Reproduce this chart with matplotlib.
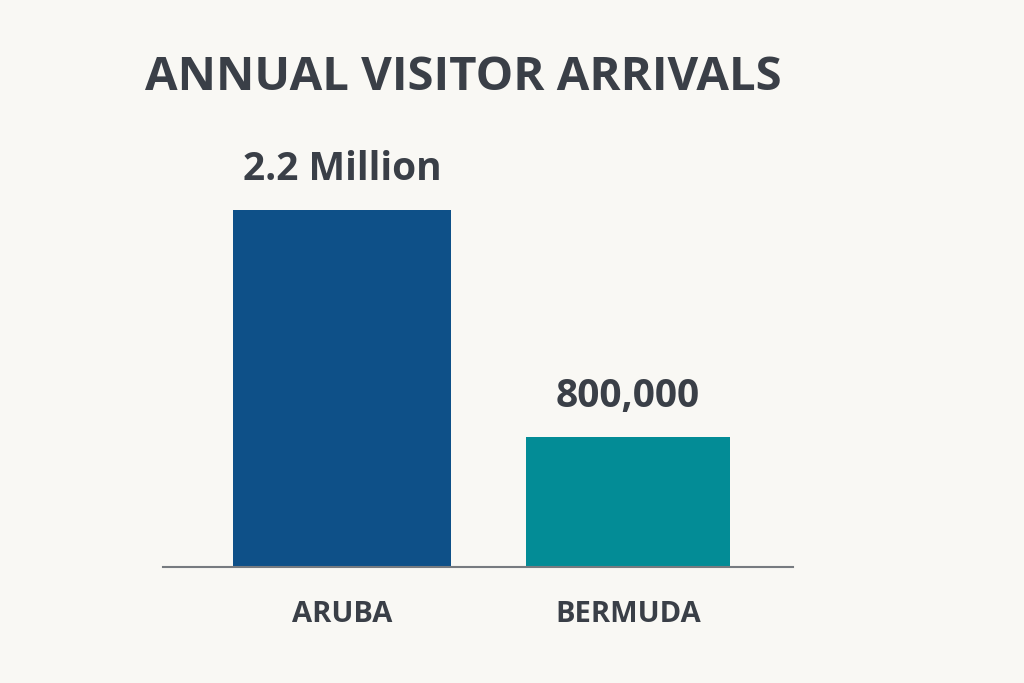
import matplotlib
matplotlib.use("Agg")
import matplotlib.pyplot as plt

categories = ["ARUBA", "BERMUDA"]
values = [2_200_000, 800_000]
value_labels = ["2.2 Million", "800,000"]
colors = ["#0E5088", "#038C96"]

W, H = 1024, 683
fig = plt.figure(figsize=(W/100, H/100), dpi=100)
bg = "#F9F8F4"
fig.patch.set_facecolor(bg)
txt = "#3A3F47"
plt.rcParams['font.family'] = ['Open Sans', 'DejaVu Sans']

ax = fig.add_axes([163/W, (H-567)/H, 630/W, 467/H])
ax.set_facecolor(bg)
x = [0, 1]
ax.bar(x, values, width=[0.76, 0.71], color=colors)
ax.set_xlim(-0.626, 1.577)
ax.set_ylim(0, 2.2e6*467/357)
for xi, v, lab in zip(x, values, value_labels):
    ax.text(xi, v + 1.3e5, lab, ha='center', va='bottom', fontsize=28,
            fontweight='bold', color=txt)
for s in ['top', 'right', 'left']:
    ax.spines[s].set_visible(False)
ax.spines['bottom'].set_color('#777B80')
ax.spines['bottom'].set_linewidth(1.5)
ax.set_yticks([])
ax.set_xticks(x)
ax.set_xticklabels(categories, fontsize=21, fontweight='bold', color=txt)
ax.tick_params(axis='x', length=0, pad=24)

fig.text(145/W, 1-78/H, "ANNUAL VISITOR ARRIVALS", fontsize=34,
         fontweight='bold', color=txt, ha='left', va='center')
fig.savefig("out.png", dpi=100, facecolor=bg)
